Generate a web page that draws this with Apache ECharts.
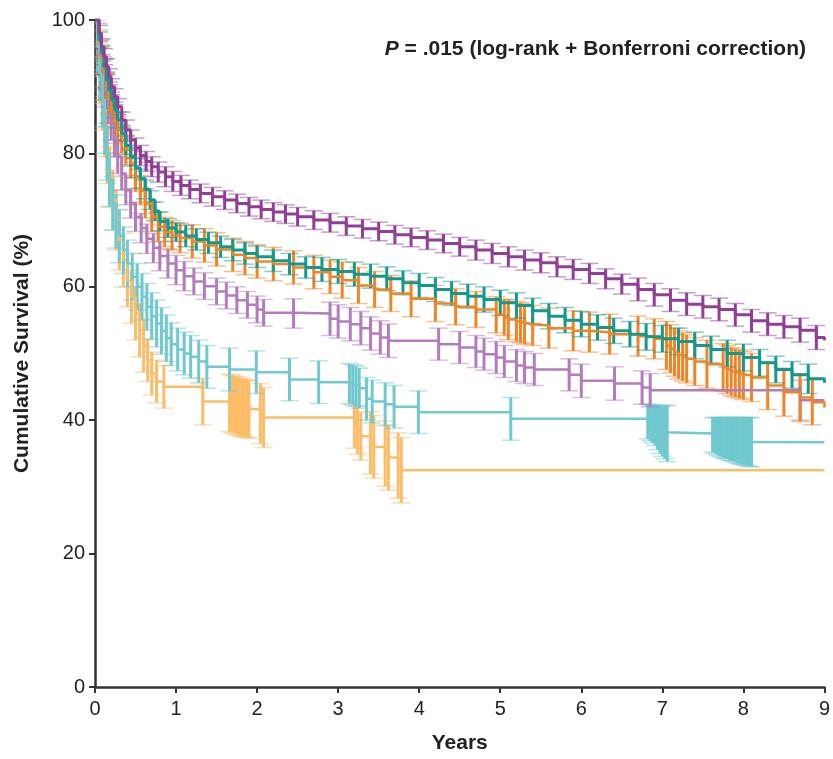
<!DOCTYPE html>
<html>
<head>
<meta charset="utf-8">
<script src="https://cdn.jsdelivr.net/npm/echarts@6/dist/echarts.min.js"></script>
<style>
  html, body { margin: 0; padding: 0; background: #fff; }
  #chart { width: 833px; height: 759px; }
</style>
</head>
<body>
<div id="chart"></div>
<script>
// Kaplan-Meier curves: time (years), survival (%), CI half-width (%)
var purpleT = [0, 0.05, 0.08, 0.11, 0.14, 0.17, 0.2, 0.24, 0.28, 0.33, 0.38, 0.44, 0.5, 0.56, 0.63, 0.7, 0.78, 0.87, 0.96, 1.06, 1.17, 1.3, 1.45, 1.6, 1.75, 1.9, 2.05, 2.2, 2.35, 2.5, 2.7, 2.9, 3.1, 3.3, 3.5, 3.7, 3.9, 4.1, 4.3, 4.5, 4.7, 4.9, 5.1, 5.3, 5.5, 5.7, 5.9, 6.1, 6.3, 6.5, 6.7, 6.9, 7.1, 7.3, 7.5, 7.7, 7.9, 8.1, 8.3, 8.5, 8.7, 8.9, 9.0];
var purpleS = [100, 98, 96, 94.5, 93, 91.5, 90, 88.5, 87, 85, 83.5, 82, 80.8, 79.7, 78.8, 78, 77.2, 76.5, 75.8, 75.2, 74.6, 74.0, 73.5, 73.0, 72.5, 72.0, 71.6, 71.2, 70.9, 70.5, 70.0, 69.6, 69.1, 68.7, 68.3, 67.8, 67.4, 67.0, 66.5, 66.0, 65.5, 65.0, 64.5, 64.0, 63.6, 63.0, 62.6, 62.0, 61.2, 60.4, 59.6, 58.8, 58.0, 57.4, 57.0, 56.6, 55.8, 54.9, 54.4, 54.0, 53.5, 52.4, 52.0];
var purpleCI = [0, 1.2, 1.2, 1.2, 1.2, 1.2, 1.2, 1.2, 1.2, 1.2, 1.5, 1.5, 1.5, 1.5, 1.5, 1.5, 1.5, 1.5, 1.5, 1.5, 1.4, 1.4, 1.4, 1.4, 1.4, 1.4, 1.4, 1.4, 1.4, 1.4, 1.4, 1.4, 1.4, 1.4, 1.4, 1.4, 1.4, 1.4, 1.4, 1.4, 1.5, 1.5, 1.5, 1.5, 1.5, 1.5, 1.5, 1.5, 1.5, 1.5, 1.7, 1.7, 1.7, 1.7, 1.7, 1.7, 1.7, 1.7, 1.7, 1.7, 1.8, 1.8, 0];

var tealT = [0, 0.05, 0.08, 0.11, 0.14, 0.17, 0.2, 0.24, 0.28, 0.33, 0.38, 0.44, 0.5, 0.56, 0.62, 0.68, 0.74, 0.8, 0.9, 1.0, 1.12, 1.25, 1.4, 1.55, 1.7, 1.85, 2.0, 2.2, 2.4, 2.6, 2.8, 3.0, 3.2, 3.4, 3.6, 3.8, 4.0, 4.2, 4.4, 4.6, 4.8, 5.0, 5.2, 5.4, 5.6, 5.8, 6.0, 6.2, 6.4, 6.6, 6.8, 7.0, 7.2, 7.4, 7.6, 7.8, 8.0, 8.2, 8.4, 8.6, 8.8, 9.0];
var tealS = [100, 97, 95, 93, 91, 89.5, 88, 86.5, 85, 83, 81.2, 79.5, 77.8, 76.2, 74.6, 73, 71.3, 69.8, 68.8, 68.2, 67.6, 67.1, 66.6, 66.0, 65.5, 65.0, 64.5, 63.9, 63.4, 62.9, 62.6, 62.3, 61.9, 61.6, 61.2, 60.6, 60.2, 59.6, 59.0, 58.6, 58.1, 57.6, 57.2, 56.4, 55.6, 55.0, 54.4, 53.9, 53.4, 52.9, 52.5, 52.2, 51.8, 51.2, 50.6, 50.0, 49.4, 48.6, 47.6, 46.8, 46.2, 45.6];
var tealCI = [0, 1.2, 1.2, 1.2, 1.2, 1.2, 1.2, 1.2, 1.2, 1.2, 1.4, 1.4, 1.4, 1.4, 1.4, 1.4, 1.4, 1.4, 1.4, 1.4, 1.6, 1.6, 1.6, 1.6, 1.6, 1.6, 1.6, 1.6, 1.6, 1.6, 1.8, 1.8, 1.8, 1.8, 1.8, 1.8, 1.8, 1.8, 1.8, 1.8, 1.9, 1.9, 1.9, 1.9, 1.9, 1.9, 1.9, 1.9, 1.9, 1.9, 2.0, 2.0, 2.0, 2.0, 2.0, 2.0, 2.0, 2.0, 2.0, 2.0, 2.2, 0];

var orangeT = [0, 0.05, 0.08, 0.11, 0.14, 0.17, 0.2, 0.24, 0.28, 0.33, 0.38, 0.44, 0.5, 0.56, 0.62, 0.7, 0.78, 0.86, 0.95, 1.05, 1.2, 1.35, 1.5, 1.7, 1.85, 2.0, 2.2, 2.45, 2.7, 2.9, 3.05, 3.25, 3.45, 3.65, 3.9, 4.2, 4.45, 4.7, 4.95, 5.05, 5.1, 5.2, 5.25, 5.3, 5.4, 5.6, 5.9, 6.1, 6.35, 6.7, 6.9, 7.05, 7.1, 7.15, 7.2, 7.25, 7.3, 7.4, 7.55, 7.75, 7.8, 7.85, 7.9, 7.95, 8.0, 8.1, 8.3, 8.5, 8.7, 8.85, 9.0];
var orangeS = [100, 96.5, 94, 92, 90, 88, 86.5, 85, 83.5, 82, 80.5, 78.5, 76.5, 74.5, 72.5, 70.5, 69, 68.2, 67.7, 67.3, 66.8, 66.2, 65.6, 64.8, 64.3, 63.8, 63.4, 62.9, 62.2, 61.5, 61.0, 60.2, 59.6, 59.0, 58.2, 57.5, 57.0, 56.6, 55.8, 55.4, 55.1, 54.8, 54.6, 54.4, 54.2, 53.8, 53.4, 53.2, 52.9, 52.6, 52.2, 51.2, 50.7, 50.2, 49.8, 49.5, 49.2, 48.8, 48.4, 47.9, 47.6, 47.3, 47.1, 46.9, 46.7, 46.4, 45.2, 44.2, 43.4, 42.7, 41.9];
var orangeCI = [0, 2, 2, 2, 2, 2, 2, 2, 2, 2, 2.2, 2.2, 2.2, 2.2, 2.2, 2.2, 2.2, 2.2, 2.2, 2.2, 2.5, 2.5, 2.5, 2.5, 2.5, 2.5, 2.5, 2.5, 2.5, 2.5, 2.7, 2.7, 2.7, 2.7, 2.7, 2.7, 2.7, 2.7, 2.7, 2.7, 3, 3, 3, 3, 3, 3, 3, 3, 3, 3, 3, 3.6, 3.6, 3.6, 3.6, 3.6, 3.6, 3.6, 3.6, 3.6, 3.6, 3.6, 3.6, 3.6, 3.6, 3.6, 3.6, 3.6, 3.6, 3.4, 0];

var lpurpleT = [0, 0.04, 0.07, 0.1, 0.13, 0.16, 0.2, 0.24, 0.28, 0.33, 0.38, 0.44, 0.5, 0.57, 0.64, 0.72, 0.8, 0.9, 1.0, 1.1, 1.22, 1.35, 1.5, 1.62, 1.75, 1.88, 2.0, 2.08, 2.45, 2.9, 3.0, 3.15, 3.28, 3.4, 3.52, 3.62, 4.24, 4.5, 4.7, 4.8, 4.95, 5.05, 5.2, 5.3, 5.42, 5.85, 6.0, 6.41, 6.75, 6.85, 8.7, 9.0];
var lpurpleS = [100, 97, 94.5, 92, 89.5, 87, 84.5, 82, 79.5, 77, 74.5, 72.5, 70.5, 68.8, 67.2, 65.8, 64.6, 63.5, 62.5, 61.6, 60.8, 60.1, 59.3, 58.7, 58.0, 57.3, 56.6, 56.1, 56.0, 55.2, 54.8, 54.4, 53.8, 53.0, 52.4, 51.9, 51.4, 50.9, 50.3, 49.9, 49.4, 48.8, 48.2, 47.9, 47.6, 46.8, 45.9, 45.5, 44.9, 44.5, 43.0, 43.0];
var lpurpleCI = [0, 2.5, 2.5, 2.5, 2.5, 2.5, 2.5, 2.5, 2.5, 2.5, 2.2, 2.2, 2.2, 2.2, 2.2, 2.2, 2.2, 2.2, 2.2, 2.2, 2, 2, 2, 2, 2, 2, 2, 2, 2.2, 2.5, 2.5, 2.5, 2.5, 2.5, 2.5, 2.5, 2.4, 2.4, 2.4, 2.4, 2.4, 2.4, 2.4, 2.4, 2.4, 2.4, 2.5, 2.5, 2.5, 2.5, 3, 0];

var lblueT = [0, 0.03, 0.06, 0.09, 0.12, 0.15, 0.18, 0.22, 0.26, 0.3, 0.35, 0.4, 0.46, 0.52, 0.58, 0.64, 0.7, 0.76, 0.82, 0.88, 0.94, 1.02, 1.1, 1.18, 1.28, 1.38, 1.66, 1.99, 2.4, 2.76, 3.14, 3.18, 3.22, 3.26, 3.35, 3.42, 3.58, 3.69, 3.99, 5.13, 6.82, 6.85, 6.88, 6.91, 6.94, 6.97, 7.0, 7.03, 7.06, 7.62, 7.65, 7.68, 7.71, 7.74, 7.77, 7.8, 7.83, 7.86, 7.89, 7.92, 7.95, 7.98, 8.01, 8.04, 8.07, 8.1, 9.0];
var lblueS = [100, 96, 92, 88, 84, 80, 76, 72.5, 69.8, 67.6, 65.5, 63.5, 61.5, 60, 58.5, 57, 55.6, 54.5, 53.4, 52.3, 51.4, 50.6, 50.0, 49.5, 48.8, 48.0, 47.6, 47.2, 46.1, 45.7, 45.5, 45.3, 45.1, 44.8, 43.2, 42.8, 42.4, 42.0, 41.2, 40.2, 39.8, 39.6, 39.4, 39.2, 38.9, 38.6, 38.4, 38.2, 38.0, 37.8, 37.7, 37.6, 37.5, 37.4, 37.35, 37.3, 37.2, 37.15, 37.1, 37.0, 36.95, 36.9, 36.85, 36.8, 36.75, 36.7, 36.7];
var lblueCI = [0, 4, 4, 4, 4, 4, 4, 4, 4, 4, 3.5, 3.5, 3.5, 3.5, 3.5, 3.5, 3.5, 3.5, 3.5, 3.5, 3.2, 3.2, 3.2, 3.2, 3.2, 3.2, 3.2, 3.2, 3.2, 3.2, 3, 3, 3, 3, 3.2, 3.2, 3.2, 3.2, 3.2, 3.2, 2.6, 2.7, 2.8, 3.0, 3.3, 3.6, 3.8, 4.0, 4.2, 2.6, 2.7, 2.8, 2.9, 3.0, 3.05, 3.1, 3.2, 3.25, 3.3, 3.4, 3.45, 3.5, 3.55, 3.6, 3.65, 3.7, 0];

var lorangeT = [0, 0.03, 0.06, 0.09, 0.12, 0.15, 0.18, 0.22, 0.26, 0.3, 0.35, 0.4, 0.45, 0.5, 0.55, 0.6, 0.65, 0.7, 0.76, 0.85, 1.33, 1.66, 1.69, 1.72, 1.75, 1.78, 1.81, 1.84, 1.87, 1.9, 2.04, 2.08, 3.2, 3.24, 3.28, 3.4, 3.44, 3.58, 3.62, 3.74, 3.78, 9.0];
var lorangeS = [100, 96, 92, 88, 84, 80, 76.5, 73, 70, 67, 64, 61, 58.5, 56, 53.5, 51.2, 49, 47, 45.8, 45.0, 42.8, 42.6, 42.45, 42.3, 42.2, 42.0, 41.9, 41.8, 41.7, 41.6, 41.0, 40.4, 39.4, 38.5, 37.6, 36.6, 36.0, 35.0, 34.4, 33.2, 32.5, 32.5];
var lorangeCI = [0, 4.5, 4.5, 4.5, 4.5, 4.5, 4.5, 4.5, 4.5, 4.5, 4, 4, 4, 4, 4, 4, 3.2, 3.2, 3.2, 3.2, 3.5, 4.3, 4.3, 4.3, 4.3, 4.3, 4.3, 4.3, 4.3, 4.3, 4.5, 4.5, 3.6, 3.6, 3.6, 4.7, 4.7, 4.9, 4.9, 4.9, 4.9, 0];

var xTicks = [0, 9, 1];
var yTicks = [0, 100, 20];

var groups = [
  { name: 'lorange', color: '#fbbd68', t: lorangeT, s: lorangeS, ci: lorangeCI, lw: 2.5 },
  { name: 'lblue', color: '#70c9cf', t: lblueT, s: lblueS, ci: lblueCI, lw: 2.5 },
  { name: 'lpurple', color: '#b27cbd', t: lpurpleT, s: lpurpleS, ci: lpurpleCI, lw: 2.5 },
  { name: 'orange', color: '#f28424', t: orangeT, s: orangeS, ci: orangeCI, lw: 2.5 },
  { name: 'teal', color: '#14998f', t: tealT, s: tealS, ci: tealCI, lw: 3 },
  { name: 'purple', color: '#913f96', t: purpleT, s: purpleS, ci: purpleCI, lw: 3 }
];

function ciSeries(g) {
  var data = [];
  for (var i = 0; i < g.t.length; i++) {
    if (g.ci[i] > 0) data.push([g.t[i], g.s[i], g.s[i] - g.ci[i], g.s[i] + g.ci[i]]);
  }
  return {
    type: 'custom',
    name: g.name + 'CI',
    silent: true,
    clip: true,
    data: data,
    encode: { x: 0, y: [1, 2, 3] },
    renderItem: function (params, api) {
      var lo = api.coord([api.value(0), api.value(2)]);
      var hi = api.coord([api.value(0), api.value(3)]);
      var cw = 9;
      return {
        type: 'group',
        children: [
          { type: 'line', shape: { x1: hi[0] - cw, y1: hi[1], x2: hi[0] + cw, y2: hi[1] },
            style: { stroke: g.color, lineWidth: 1.5, opacity: 0.5 } },
          { type: 'line', shape: { x1: lo[0] - cw, y1: lo[1], x2: lo[0] + cw, y2: lo[1] },
            style: { stroke: g.color, lineWidth: 1.5, opacity: 0.5 } },
          { type: 'line', shape: { x1: lo[0], y1: lo[1], x2: hi[0], y2: hi[1] },
            style: { stroke: g.color, lineWidth: 3 } }
        ]
      };
    }
  };
}

function lineSeries(g) {
  return {
    type: 'line',
    name: g.name,
    step: 'end',
    showSymbol: false,
    silent: true,
    data: g.t.map(function (x, i) { return [x, g.s[i]]; }),
    lineStyle: { color: g.color, width: g.lw }
  };
}

var series = [];
groups.forEach(function (g) {
  series.push(ciSeries(g));
  series.push(lineSeries(g));
});

var axisFont = 'Liberation Sans, Arial, sans-serif';

var myChart = echarts.init(document.getElementById('chart'));
var option = {
  animation: false,
  title: {
    text: '{p|P} = .015 (log-rank + Bonferroni correction)',
    right: 22,
    top: 34,
    textStyle: {
      fontFamily: axisFont,
      fontSize: 21,
      fontWeight: 'bold',
      color: '#222',
      rich: {
        p: { fontFamily: axisFont, fontSize: 21, fontWeight: 'bold', fontStyle: 'italic', color: '#222' }
      }
    }
  },
  grid: { left: 95, right: 6, top: 20, bottom: 71 },
  xAxis: {
    type: 'value',
    min: xTicks[0], max: xTicks[1], interval: xTicks[2],
    name: 'Years',
    nameLocation: 'middle',
    nameGap: 46,
    nameTextStyle: { fontFamily: axisFont, fontSize: 21, fontWeight: 'bold', color: '#222' },
    axisLine: { onZero: false, lineStyle: { color: '#333', width: 2.5 } },
    axisTick: { show: true, length: 6, lineStyle: { color: '#333', width: 2 } },
    axisLabel: { fontFamily: axisFont, fontSize: 20, color: '#222', margin: 12 },
    splitLine: { show: false }
  },
  yAxis: {
    type: 'value',
    min: yTicks[0], max: yTicks[1], interval: yTicks[2],
    name: 'Cumulative Survival (%)',
    nameLocation: 'middle',
    nameGap: 62,
    nameTextStyle: { fontFamily: axisFont, fontSize: 21, fontWeight: 'bold', color: '#222' },
    axisLine: { show: true, onZero: false, lineStyle: { color: '#333', width: 2.5 } },
    axisTick: { show: true, length: 6, lineStyle: { color: '#333', width: 2 } },
    axisLabel: { fontFamily: axisFont, fontSize: 20, color: '#222', margin: 10 },
    splitLine: { show: false }
  },
  series: series
};
myChart.setOption(option);
</script>
</body>
</html>
